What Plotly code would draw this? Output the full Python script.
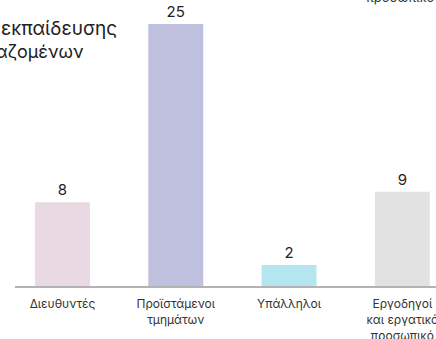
import plotly.graph_objects as go

# Staff categories and counts
categories = ["Διευθυντές", "Προϊστάμενοι<br>τμημάτων", "Υπάλληλοι", "Εργοδηγοί<br>και εργατικό<br>προσωπικό"]
counts = [8, 25, 2, 9]
bar_colors = ["#e8d9e2", "#bfc0de", "#b4e6ef", "#e1e2e1"]

FONT = "Inter, 'Noto Sans', sans-serif"

fig = go.Figure(
    go.Bar(
        x=list(range(len(categories))),
        y=counts,
        marker=dict(color=bar_colors, line=dict(width=0)),
        text=[str(v) for v in counts],
        textposition="outside",
        textfont=dict(size=15, color="#222222", family=FONT),
        cliponaxis=False,
        hoverinfo="skip",
    )
)

fig.update_layout(
    width=436,
    height=339,
    margin=dict(l=15, r=0, t=0, b=53),
    paper_bgcolor="white",
    plot_bgcolor="white",
    bargap=0.515,
    showlegend=False,
    font=dict(family=FONT, color="#333333"),
    xaxis=dict(
        range=[-0.419, 3.297],
        tickmode="array",
        tickvals=list(range(len(categories))),
        ticktext=categories,
        tickfont=dict(size=12, color="#333333"),
        ticks="",
        ticklabelstandoff=6,
        ticklabeloverflow="allow",
        showgrid=False,
        zeroline=False,
        showline=True,
        linecolor="#b3b3b3",
        linewidth=2,
        automargin=False,
    ),
    yaxis=dict(
        range=[0, 27.3],
        visible=False,
        showgrid=False,
        zeroline=False,
    ),
    annotations=[
        dict(
            text="εκπαίδευσης",
            xref="paper", yref="paper",
            x=(59 - 15) / 421, y=(286 - 28) / 286,
            xanchor="center", yanchor="middle",
            showarrow=False,
            font=dict(size=19, color="#222222", family=FONT),
        ),
        dict(
            text="εργαζομένων",
            xref="paper", yref="paper",
            x=(86 - 15) / 421, y=(286 - 52) / 286,
            xanchor="right", yanchor="middle",
            showarrow=False,
            font=dict(size=18, color="#222222", family=FONT),
        ),
        dict(
            text="προσωπικό",
            xref="paper", yref="paper",
            x=(364 - 15) / 421, y=(286 + 3) / 286,
            xanchor="left", yanchor="middle",
            showarrow=False,
            font=dict(size=13, color="#333333", family=FONT),
        ),
    ],
)

fig.write_html("out.html")
